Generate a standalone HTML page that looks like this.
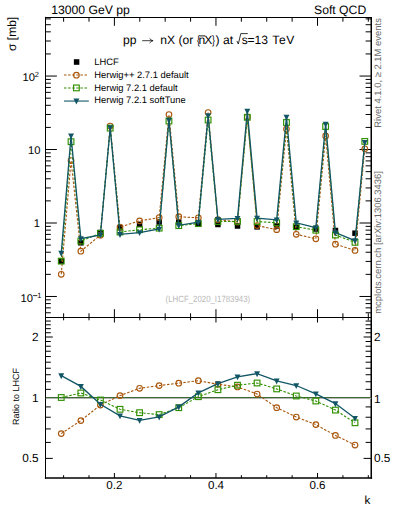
<!DOCTYPE html>
<html><head><meta charset="utf-8"><style>html,body{margin:0;padding:0;background:#fff;width:393px;height:512px;overflow:hidden}svg{display:block}text{text-rendering:geometricPrecision;-webkit-font-smoothing:antialiased}</style></head>
<body><svg width="393" height="512" viewBox="0 0 393 512">
<rect width="393" height="512" fill="#fff"/>
<path d="M45.5,312.77h5.3M371.3,312.77h-5.7M45.5,307.85h5.3M371.3,307.85h-5.7M45.5,303.59h5.3M371.3,303.59h-5.7M45.5,299.83h5.3M371.3,299.83h-5.7M45.5,296.47h11.4M371.3,296.47h-11.8M45.5,274.35h5.3M371.3,274.35h-5.7M45.5,261.42h5.3M371.3,261.42h-5.7M45.5,252.24h5.3M371.3,252.24h-5.7M45.5,245.12h5.3M371.3,245.12h-5.7M45.5,239.30h5.3M371.3,239.30h-5.7M45.5,234.38h5.3M371.3,234.38h-5.7M45.5,230.12h5.3M371.3,230.12h-5.7M45.5,226.36h5.3M371.3,226.36h-5.7M45.5,223.00h11.4M371.3,223.00h-11.8M45.5,200.88h5.3M371.3,200.88h-5.7M45.5,187.95h5.3M371.3,187.95h-5.7M45.5,178.77h5.3M371.3,178.77h-5.7M45.5,171.65h5.3M371.3,171.65h-5.7M45.5,165.83h5.3M371.3,165.83h-5.7M45.5,160.91h5.3M371.3,160.91h-5.7M45.5,156.65h5.3M371.3,156.65h-5.7M45.5,152.89h5.3M371.3,152.89h-5.7M45.5,149.53h11.4M371.3,149.53h-11.8M45.5,127.41h5.3M371.3,127.41h-5.7M45.5,114.48h5.3M371.3,114.48h-5.7M45.5,105.30h5.3M371.3,105.30h-5.7M45.5,98.18h5.3M371.3,98.18h-5.7M45.5,92.36h5.3M371.3,92.36h-5.7M45.5,87.44h5.3M371.3,87.44h-5.7M45.5,83.18h5.3M371.3,83.18h-5.7M45.5,79.42h5.3M371.3,79.42h-5.7M45.5,76.06h11.4M371.3,76.06h-11.8M45.5,53.94h5.3M371.3,53.94h-5.7M45.5,41.01h5.3M371.3,41.01h-5.7M45.5,31.83h5.3M371.3,31.83h-5.7M45.5,24.71h5.3M371.3,24.71h-5.7M45.5,18.89h5.3M371.3,18.89h-5.7M45.5,458.39h7.3M371.3,458.39h-7.7M45.5,442.42h5.3M371.3,442.42h-5.7M45.5,428.93h5.3M371.3,428.93h-5.7M45.5,417.24h5.3M371.3,417.24h-5.7M45.5,406.92h5.3M371.3,406.92h-5.7M45.5,397.70h7.3M371.3,397.70h-7.7M45.5,389.36h5.3M371.3,389.36h-5.7M45.5,381.74h5.3M371.3,381.74h-5.7M45.5,374.73h5.3M371.3,374.73h-5.7M45.5,368.24h5.3M371.3,368.24h-5.7M45.5,362.20h5.3M371.3,362.20h-5.7M45.5,356.55h5.3M371.3,356.55h-5.7M45.5,351.24h5.3M371.3,351.24h-5.7M45.5,346.24h5.3M371.3,346.24h-5.7M45.5,341.50h5.3M371.3,341.50h-5.7M45.5,337.01h7.3M371.3,337.01h-7.7M45.5,332.74h5.3M371.3,332.74h-5.7M45.5,328.67h5.3M371.3,328.67h-5.7M45.5,324.78h5.3M371.3,324.78h-5.7M45.5,321.05h5.3M371.3,321.05h-5.7M63.62,17.5v4.2M63.62,317.5v-4.2M63.62,317.5v2.8M63.62,478.0v-2.8M89.01,17.5v4.2M89.01,317.5v-4.2M89.01,317.5v2.8M89.01,478.0v-2.8M114.40,17.5v8.3M114.40,317.5v-8.3M114.40,317.5v5.0M114.40,478.0v-5.0M139.79,17.5v4.2M139.79,317.5v-4.2M139.79,317.5v2.8M139.79,478.0v-2.8M165.18,17.5v4.2M165.18,317.5v-4.2M165.18,317.5v2.8M165.18,478.0v-2.8M190.57,17.5v4.2M190.57,317.5v-4.2M190.57,317.5v2.8M190.57,478.0v-2.8M215.96,17.5v8.3M215.96,317.5v-8.3M215.96,317.5v5.0M215.96,478.0v-5.0M241.35,17.5v4.2M241.35,317.5v-4.2M241.35,317.5v2.8M241.35,478.0v-2.8M266.74,17.5v4.2M266.74,317.5v-4.2M266.74,317.5v2.8M266.74,478.0v-2.8M292.13,17.5v4.2M292.13,317.5v-4.2M292.13,317.5v2.8M292.13,478.0v-2.8M317.52,17.5v8.3M317.52,317.5v-8.3M317.52,317.5v5.0M317.52,478.0v-5.0M342.91,17.5v4.2M342.91,317.5v-4.2M342.91,317.5v2.8M342.91,478.0v-2.8M368.30,17.5v4.2M368.30,317.5v-4.2M368.30,317.5v2.8M368.30,478.0v-2.8" stroke="#000" stroke-width="1" fill="none"/>
<path d="M45.5,17.5H371.5M45.5,317.5H371.5" stroke="#000" stroke-width="1.2" fill="none"/>
<path d="M45.5,16.9V478.8" stroke="#000" stroke-width="1.0" fill="none"/><path d="M371.25,16.9V478.8" stroke="#000" stroke-width="1.5" fill="none"/>
<path d="M44.9,478.0H372.1" stroke="#000" stroke-width="1.7" fill="none"/>
<text x="51.2" y="13.8" font-size="12.2" text-anchor="start" fill="#000" font-family="Liberation Sans, sans-serif" >13000 GeV pp</text>
<text x="366.2" y="13.8" font-size="12.2" text-anchor="end" fill="#000" font-family="Liberation Sans, sans-serif" >Soft QCD</text>
<text x="35.0" y="80.7" font-size="11.2" text-anchor="end" fill="#000" font-family="Liberation Sans, sans-serif" >10</text>
<text x="34.7" y="76.9" font-size="7.5" text-anchor="start" fill="#000" font-family="Liberation Sans, sans-serif" >2</text>
<text x="40.4" y="153.9" font-size="11.2" text-anchor="end" fill="#000" font-family="Liberation Sans, sans-serif" >10</text>
<text x="39.9" y="227.4" font-size="11.2" text-anchor="end" fill="#000" font-family="Liberation Sans, sans-serif" >1</text>
<text x="33.0" y="301.8" font-size="11.2" text-anchor="end" fill="#000" font-family="Liberation Sans, sans-serif" >10</text>
<path d="M33.1,295.6H37.4" stroke="#000" stroke-width="0.8"/>
<text x="37.3" y="297.9" font-size="7.5" text-anchor="start" fill="#000" font-family="Liberation Sans, sans-serif" >1</text>
<text x="38.6" y="340.71" font-size="11.8" text-anchor="end" fill="#000" font-family="Liberation Sans, sans-serif" >2</text>
<text x="374" y="340.61" font-size="11.8" text-anchor="start" fill="#000" font-family="Liberation Sans, sans-serif" >2</text>
<text x="38.6" y="401.95" font-size="11.8" text-anchor="end" fill="#000" font-family="Liberation Sans, sans-serif" >1</text>
<text x="374" y="402.70" font-size="11.8" text-anchor="start" fill="#000" font-family="Liberation Sans, sans-serif" >1</text>
<text x="38.6" y="462.04" font-size="11.8" text-anchor="end" fill="#000" font-family="Liberation Sans, sans-serif" >0.5</text>
<text x="374" y="462.14" font-size="11.8" text-anchor="start" fill="#000" font-family="Liberation Sans, sans-serif" >0.5</text>
<text x="114.4" y="489" font-size="11.6" text-anchor="middle" fill="#000" font-family="Liberation Sans, sans-serif" >0.2</text>
<text x="216.0" y="489" font-size="11.6" text-anchor="middle" fill="#000" font-family="Liberation Sans, sans-serif" >0.4</text>
<text x="317.5" y="489" font-size="11.6" text-anchor="middle" fill="#000" font-family="Liberation Sans, sans-serif" >0.6</text>
<text x="367.4" y="504.0" font-size="11.6" text-anchor="middle" fill="#000" font-family="Liberation Sans, sans-serif" >k</text>
<text transform="translate(15.9,16.8) rotate(-90)" font-size="12" text-anchor="end" font-family="Liberation Sans, sans-serif">σ [mb]</text>
<text transform="translate(18.5,396.6) rotate(-90)" font-size="9.0" text-anchor="middle" font-family="Liberation Sans, sans-serif">Ratio to LHCF</text>
<text transform="translate(380.6,127.7) rotate(-90)" font-size="9.45" fill="#6a6a6a" font-family="Liberation Sans, sans-serif">Rivet 4.1.0, ≥ 2.1M events</text>
<text transform="translate(381.3,313.8) rotate(-90)" font-size="9.45" fill="#6a6a6a" font-family="Liberation Sans, sans-serif">mcplots.cern.ch [arXiv:1306.3436]</text>
<text x="165.6" y="302.4" font-size="9.0" text-anchor="start" fill="#b8b8b8" font-family="Liberation Sans, sans-serif" textLength="84.6" lengthAdjust="spacingAndGlyphs">(LHCF_2020_I1783943)</text>
<text x="123.0" y="43.8" font-size="12.1" text-anchor="start" fill="#000" font-family="Liberation Sans, sans-serif" >pp</text>
<path d="M142.2,40.7H152.6" stroke="#000" stroke-width="0.75" fill="none"/>
<path d="M149.6,38.5Q151,40.2 153.1,40.7Q151,41.2 149.6,43" stroke="#000" stroke-width="0.75" fill="none"/>
<text x="160.3" y="43.8" font-size="12.1" text-anchor="start" fill="#000" font-family="Liberation Sans, sans-serif" >nX (or</text>
<text transform="translate(197.0,43.8) scale(0.72,1)" font-size="12.1" font-family="Liberation Sans, sans-serif">{</text>
<text x="198.6" y="43.8" font-size="12.1" text-anchor="start" fill="#000" font-family="Liberation Sans, sans-serif" >n</text>
<path d="M199.6,35.9H205.1" stroke="#000" stroke-width="0.9"/>
<text x="204.3" y="43.8" font-size="12.1" text-anchor="start" fill="#000" font-family="Liberation Sans, sans-serif" >X</text>
<text transform="translate(211.9,43.8) scale(0.72,1)" font-size="12.1" font-family="Liberation Sans, sans-serif">}</text>
<text x="215.4" y="43.8" font-size="12.1" text-anchor="start" fill="#000" font-family="Liberation Sans, sans-serif" >)</text>
<text x="223.0" y="43.8" font-size="12.1" text-anchor="start" fill="#000" font-family="Liberation Sans, sans-serif" >at</text>
<path d="M236.9,40.9L238.3,44.0L240.8,33.6H247.8" stroke="#000" stroke-width="0.8" fill="none"/>
<text x="241.7" y="43.8" font-size="12.1" text-anchor="start" fill="#000" font-family="Liberation Sans, sans-serif" >s</text>
<text x="247.5" y="43.8" font-size="12.1" text-anchor="start" fill="#000" font-family="Liberation Sans, sans-serif" >=</text>
<text x="254.6" y="43.8" font-size="12.1" text-anchor="start" fill="#000" font-family="Liberation Sans, sans-serif" >13</text>
<text x="272.2" y="43.8" font-size="12.1" text-anchor="start" fill="#000" font-family="Liberation Sans, sans-serif" letter-spacing="0.65">TeV</text>
<text x="94.3" y="64.9" font-size="9.4" text-anchor="start" fill="#000" font-family="Liberation Sans, sans-serif" >LHCF</text>
<text x="94.3" y="77.9" font-size="9.4" text-anchor="start" fill="#000" font-family="Liberation Sans, sans-serif" >Herwig++ 2.7.1 default</text>
<text x="94.3" y="90.7" font-size="9.4" text-anchor="start" fill="#000" font-family="Liberation Sans, sans-serif" >Herwig 7.2.1 default</text>
<text x="94.3" y="103.4" font-size="9.4" text-anchor="start" fill="#000" font-family="Liberation Sans, sans-serif" >Herwig 7.2.1 softTune</text>
<rect x="73.85" y="59.2" width="5.5" height="5.6" fill="#000"/>
<path d="M64,75.0H88.5" stroke="#a9570c" stroke-width="1.1" stroke-dasharray="2.5,1.6"/>
<circle cx="76.40" cy="75.20" r="2.8" fill="none" stroke="#a9570c" stroke-width="1.15"/>
<path d="M64,88.0H88.5" stroke="#309000" stroke-width="1.1" stroke-dasharray="2.5,1.6"/>
<rect x="73.55" y="85.05" width="5.7" height="5.7" fill="none" stroke="#309000" stroke-width="1.15"/>
<path d="M64,101.05H88.8" stroke="#125666" stroke-width="1.1"/>
<path d="M73.45,98.55h5.9l-2.95,5.9z" fill="#125666"/>
<defs><clipPath id="cm"><rect x="45.5" y="17.5" width="326.0" height="300.0"/></clipPath><clipPath id="cr"><rect x="45.5" y="317.5" width="326.0" height="160.5"/></clipPath></defs>
<g clip-path="url(#cm)">
<rect x="58.50" y="258.45" width="5.5" height="5.5" fill="#000"/>
<rect x="78.08" y="240.05" width="5.5" height="5.5" fill="#000"/>
<rect x="97.67" y="229.75" width="5.5" height="5.5" fill="#000"/>
<rect x="117.25" y="225.05" width="5.5" height="5.5" fill="#000"/>
<rect x="136.84" y="221.55" width="5.5" height="5.5" fill="#000"/>
<rect x="156.42" y="219.25" width="5.5" height="5.5" fill="#000"/>
<rect x="176.00" y="219.25" width="5.5" height="5.5" fill="#000"/>
<rect x="195.59" y="221.25" width="5.5" height="5.5" fill="#000"/>
<rect x="215.17" y="221.75" width="5.5" height="5.5" fill="#000"/>
<rect x="234.76" y="223.25" width="5.5" height="5.5" fill="#000"/>
<rect x="254.34" y="224.15" width="5.5" height="5.5" fill="#000"/>
<rect x="273.92" y="223.25" width="5.5" height="5.5" fill="#000"/>
<rect x="293.51" y="224.55" width="5.5" height="5.5" fill="#000"/>
<rect x="313.09" y="226.25" width="5.5" height="5.5" fill="#000"/>
<rect x="332.68" y="227.75" width="5.5" height="5.5" fill="#000"/>
<rect x="352.26" y="230.45" width="5.5" height="5.5" fill="#000"/>
<path d="M61.25,274.28 L71.04,160.50 L80.83,251.15 L100.42,235.16 L110.21,126.00 L120.00,227.03 L139.59,220.87 L159.17,217.59 L168.96,114.60 L178.75,216.72 L198.34,217.80 L208.13,112.60 L217.92,219.62 L237.51,222.06 L247.30,117.00 L257.09,225.55 L276.67,229.64 L286.47,129.00 L296.26,234.33 L315.84,238.80 L325.63,135.90 L335.43,244.24 L355.01,250.44 L364.80,148.80" fill="none" stroke="#a9570c" stroke-width="1.1" stroke-dasharray="2.5,1.6"/>
<circle cx="61.25" cy="274.28" r="2.8" fill="none" stroke="#a9570c" stroke-width="1.15"/>
<circle cx="71.04" cy="160.50" r="2.8" fill="none" stroke="#a9570c" stroke-width="1.15"/>
<circle cx="80.83" cy="251.15" r="2.8" fill="none" stroke="#a9570c" stroke-width="1.15"/>
<circle cx="100.42" cy="235.16" r="2.8" fill="none" stroke="#a9570c" stroke-width="1.15"/>
<circle cx="110.21" cy="126.00" r="2.8" fill="none" stroke="#a9570c" stroke-width="1.15"/>
<circle cx="120.00" cy="227.03" r="2.8" fill="none" stroke="#a9570c" stroke-width="1.15"/>
<circle cx="139.59" cy="220.87" r="2.8" fill="none" stroke="#a9570c" stroke-width="1.15"/>
<circle cx="159.17" cy="217.59" r="2.8" fill="none" stroke="#a9570c" stroke-width="1.15"/>
<circle cx="168.96" cy="114.60" r="2.8" fill="none" stroke="#a9570c" stroke-width="1.15"/>
<circle cx="178.75" cy="216.72" r="2.8" fill="none" stroke="#a9570c" stroke-width="1.15"/>
<circle cx="198.34" cy="217.80" r="2.8" fill="none" stroke="#a9570c" stroke-width="1.15"/>
<circle cx="208.13" cy="112.60" r="2.8" fill="none" stroke="#a9570c" stroke-width="1.15"/>
<circle cx="217.92" cy="219.62" r="2.8" fill="none" stroke="#a9570c" stroke-width="1.15"/>
<circle cx="237.51" cy="222.06" r="2.8" fill="none" stroke="#a9570c" stroke-width="1.15"/>
<circle cx="247.30" cy="117.00" r="2.8" fill="none" stroke="#a9570c" stroke-width="1.15"/>
<circle cx="257.09" cy="225.55" r="2.8" fill="none" stroke="#a9570c" stroke-width="1.15"/>
<circle cx="276.67" cy="229.64" r="2.8" fill="none" stroke="#a9570c" stroke-width="1.15"/>
<circle cx="286.47" cy="129.00" r="2.8" fill="none" stroke="#a9570c" stroke-width="1.15"/>
<circle cx="296.26" cy="234.33" r="2.8" fill="none" stroke="#a9570c" stroke-width="1.15"/>
<circle cx="315.84" cy="238.80" r="2.8" fill="none" stroke="#a9570c" stroke-width="1.15"/>
<circle cx="325.63" cy="135.90" r="2.8" fill="none" stroke="#a9570c" stroke-width="1.15"/>
<circle cx="335.43" cy="244.24" r="2.8" fill="none" stroke="#a9570c" stroke-width="1.15"/>
<circle cx="355.01" cy="250.44" r="2.8" fill="none" stroke="#a9570c" stroke-width="1.15"/>
<circle cx="364.80" cy="148.80" r="2.8" fill="none" stroke="#a9570c" stroke-width="1.15"/>
<path d="M61.25,261.13 L71.04,141.70 L80.83,241.09 L100.42,233.34 L110.21,128.10 L120.00,232.03 L139.59,229.77 L159.17,228.16 L168.96,121.00 L178.75,225.64 L198.34,223.64 L208.13,120.00 L217.92,221.58 L237.51,221.44 L247.30,117.30 L257.09,221.54 L276.67,222.79 L286.47,122.50 L296.26,226.68 L315.84,230.20 L325.63,126.50 L335.43,235.02 L355.01,242.35 L364.80,141.40" fill="none" stroke="#309000" stroke-width="1.1" stroke-dasharray="2.5,1.6"/>
<rect x="58.40" y="258.28" width="5.7" height="5.7" fill="none" stroke="#309000" stroke-width="1.15"/>
<rect x="68.19" y="138.85" width="5.7" height="5.7" fill="none" stroke="#309000" stroke-width="1.15"/>
<rect x="77.98" y="238.24" width="5.7" height="5.7" fill="none" stroke="#309000" stroke-width="1.15"/>
<rect x="97.57" y="230.49" width="5.7" height="5.7" fill="none" stroke="#309000" stroke-width="1.15"/>
<rect x="107.36" y="125.25" width="5.7" height="5.7" fill="none" stroke="#309000" stroke-width="1.15"/>
<rect x="117.15" y="229.18" width="5.7" height="5.7" fill="none" stroke="#309000" stroke-width="1.15"/>
<rect x="136.74" y="226.92" width="5.7" height="5.7" fill="none" stroke="#309000" stroke-width="1.15"/>
<rect x="156.32" y="225.31" width="5.7" height="5.7" fill="none" stroke="#309000" stroke-width="1.15"/>
<rect x="166.11" y="118.15" width="5.7" height="5.7" fill="none" stroke="#309000" stroke-width="1.15"/>
<rect x="175.90" y="222.79" width="5.7" height="5.7" fill="none" stroke="#309000" stroke-width="1.15"/>
<rect x="195.49" y="220.79" width="5.7" height="5.7" fill="none" stroke="#309000" stroke-width="1.15"/>
<rect x="205.28" y="117.15" width="5.7" height="5.7" fill="none" stroke="#309000" stroke-width="1.15"/>
<rect x="215.07" y="218.73" width="5.7" height="5.7" fill="none" stroke="#309000" stroke-width="1.15"/>
<rect x="234.66" y="218.59" width="5.7" height="5.7" fill="none" stroke="#309000" stroke-width="1.15"/>
<rect x="244.45" y="114.45" width="5.7" height="5.7" fill="none" stroke="#309000" stroke-width="1.15"/>
<rect x="254.24" y="218.69" width="5.7" height="5.7" fill="none" stroke="#309000" stroke-width="1.15"/>
<rect x="273.82" y="219.94" width="5.7" height="5.7" fill="none" stroke="#309000" stroke-width="1.15"/>
<rect x="283.62" y="119.65" width="5.7" height="5.7" fill="none" stroke="#309000" stroke-width="1.15"/>
<rect x="293.41" y="223.83" width="5.7" height="5.7" fill="none" stroke="#309000" stroke-width="1.15"/>
<rect x="312.99" y="227.35" width="5.7" height="5.7" fill="none" stroke="#309000" stroke-width="1.15"/>
<rect x="322.78" y="123.65" width="5.7" height="5.7" fill="none" stroke="#309000" stroke-width="1.15"/>
<rect x="332.58" y="232.17" width="5.7" height="5.7" fill="none" stroke="#309000" stroke-width="1.15"/>
<rect x="352.16" y="239.50" width="5.7" height="5.7" fill="none" stroke="#309000" stroke-width="1.15"/>
<rect x="361.95" y="138.55" width="5.7" height="5.7" fill="none" stroke="#309000" stroke-width="1.15"/>
<path d="M61.25,253.15 L71.04,135.80 L80.83,238.68 L100.42,234.91 L110.21,127.60 L120.00,234.40 L139.59,232.54 L159.17,229.00 L168.96,120.20 L178.75,225.35 L198.34,222.25 L208.13,115.50 L217.92,219.36 L237.51,218.38 L247.30,111.00 L257.09,218.12 L276.67,219.88 L286.47,117.00 L296.26,222.85 L315.84,227.58 L325.63,124.00 L335.43,232.65 L355.01,240.71 L364.80,142.30" fill="none" stroke="#125666" stroke-width="1.3"/>
<path d="M58.30,250.80h5.9l-2.95,5.9z" fill="#125666"/>
<path d="M68.09,133.45h5.9l-2.95,5.9z" fill="#125666"/>
<path d="M77.88,236.33h5.9l-2.95,5.9z" fill="#125666"/>
<path d="M97.47,232.56h5.9l-2.95,5.9z" fill="#125666"/>
<path d="M107.26,125.25h5.9l-2.95,5.9z" fill="#125666"/>
<path d="M117.05,232.05h5.9l-2.95,5.9z" fill="#125666"/>
<path d="M136.64,230.19h5.9l-2.95,5.9z" fill="#125666"/>
<path d="M156.22,226.65h5.9l-2.95,5.9z" fill="#125666"/>
<path d="M166.01,117.85h5.9l-2.95,5.9z" fill="#125666"/>
<path d="M175.80,223.00h5.9l-2.95,5.9z" fill="#125666"/>
<path d="M195.39,219.90h5.9l-2.95,5.9z" fill="#125666"/>
<path d="M205.18,113.15h5.9l-2.95,5.9z" fill="#125666"/>
<path d="M214.97,217.01h5.9l-2.95,5.9z" fill="#125666"/>
<path d="M234.56,216.03h5.9l-2.95,5.9z" fill="#125666"/>
<path d="M244.35,108.65h5.9l-2.95,5.9z" fill="#125666"/>
<path d="M254.14,215.77h5.9l-2.95,5.9z" fill="#125666"/>
<path d="M273.72,217.53h5.9l-2.95,5.9z" fill="#125666"/>
<path d="M283.52,114.65h5.9l-2.95,5.9z" fill="#125666"/>
<path d="M293.31,220.50h5.9l-2.95,5.9z" fill="#125666"/>
<path d="M312.89,225.23h5.9l-2.95,5.9z" fill="#125666"/>
<path d="M322.68,121.65h5.9l-2.95,5.9z" fill="#125666"/>
<path d="M332.48,230.30h5.9l-2.95,5.9z" fill="#125666"/>
<path d="M352.06,238.36h5.9l-2.95,5.9z" fill="#125666"/>
<path d="M361.85,139.95h5.9l-2.95,5.9z" fill="#125666"/>
</g>
<g clip-path="url(#cr)">
<rect x="45.5" y="398" width="326.0" height="1" fill="#b4b4b4"/><rect x="45.5" y="397" width="326.0" height="1" fill="#3f6a37"/>
<path d="M61.25,433.60 L80.83,420.60 L100.42,405.00 L120.00,395.60 L139.59,388.30 L159.17,385.60 L178.75,383.20 L198.34,380.70 L217.92,384.30 L237.51,386.90 L257.09,394.00 L276.67,407.70 L296.26,417.00 L315.84,424.60 L335.43,435.40 L355.01,445.00" fill="none" stroke="#a9570c" stroke-width="1.1" stroke-dasharray="2.5,1.6"/>
<circle cx="61.25" cy="433.60" r="2.8" fill="none" stroke="#a9570c" stroke-width="1.15"/>
<circle cx="80.83" cy="420.60" r="2.8" fill="none" stroke="#a9570c" stroke-width="1.15"/>
<circle cx="100.42" cy="405.00" r="2.8" fill="none" stroke="#a9570c" stroke-width="1.15"/>
<circle cx="120.00" cy="395.60" r="2.8" fill="none" stroke="#a9570c" stroke-width="1.15"/>
<circle cx="139.59" cy="388.30" r="2.8" fill="none" stroke="#a9570c" stroke-width="1.15"/>
<circle cx="159.17" cy="385.60" r="2.8" fill="none" stroke="#a9570c" stroke-width="1.15"/>
<circle cx="178.75" cy="383.20" r="2.8" fill="none" stroke="#a9570c" stroke-width="1.15"/>
<circle cx="198.34" cy="380.70" r="2.8" fill="none" stroke="#a9570c" stroke-width="1.15"/>
<circle cx="217.92" cy="384.30" r="2.8" fill="none" stroke="#a9570c" stroke-width="1.15"/>
<circle cx="237.51" cy="386.90" r="2.8" fill="none" stroke="#a9570c" stroke-width="1.15"/>
<circle cx="257.09" cy="394.00" r="2.8" fill="none" stroke="#a9570c" stroke-width="1.15"/>
<circle cx="276.67" cy="407.70" r="2.8" fill="none" stroke="#a9570c" stroke-width="1.15"/>
<circle cx="296.26" cy="417.00" r="2.8" fill="none" stroke="#a9570c" stroke-width="1.15"/>
<circle cx="315.84" cy="424.60" r="2.8" fill="none" stroke="#a9570c" stroke-width="1.15"/>
<circle cx="335.43" cy="435.40" r="2.8" fill="none" stroke="#a9570c" stroke-width="1.15"/>
<circle cx="355.01" cy="445.00" r="2.8" fill="none" stroke="#a9570c" stroke-width="1.15"/>
<path d="M61.25,397.50 L80.83,393.00 L100.42,400.00 L120.00,409.30 L139.59,412.70 L159.17,414.60 L178.75,407.70 L198.34,396.70 L217.92,389.70 L237.51,385.20 L257.09,383.00 L276.67,388.90 L296.26,396.00 L315.84,401.00 L335.43,410.10 L355.01,422.80" fill="none" stroke="#309000" stroke-width="1.1" stroke-dasharray="2.5,1.6"/>
<rect x="58.40" y="394.65" width="5.7" height="5.7" fill="none" stroke="#309000" stroke-width="1.15"/>
<rect x="77.98" y="390.15" width="5.7" height="5.7" fill="none" stroke="#309000" stroke-width="1.15"/>
<rect x="97.57" y="397.15" width="5.7" height="5.7" fill="none" stroke="#309000" stroke-width="1.15"/>
<rect x="117.15" y="406.45" width="5.7" height="5.7" fill="none" stroke="#309000" stroke-width="1.15"/>
<rect x="136.74" y="409.85" width="5.7" height="5.7" fill="none" stroke="#309000" stroke-width="1.15"/>
<rect x="156.32" y="411.75" width="5.7" height="5.7" fill="none" stroke="#309000" stroke-width="1.15"/>
<rect x="175.90" y="404.85" width="5.7" height="5.7" fill="none" stroke="#309000" stroke-width="1.15"/>
<rect x="195.49" y="393.85" width="5.7" height="5.7" fill="none" stroke="#309000" stroke-width="1.15"/>
<rect x="215.07" y="386.85" width="5.7" height="5.7" fill="none" stroke="#309000" stroke-width="1.15"/>
<rect x="234.66" y="382.35" width="5.7" height="5.7" fill="none" stroke="#309000" stroke-width="1.15"/>
<rect x="254.24" y="380.15" width="5.7" height="5.7" fill="none" stroke="#309000" stroke-width="1.15"/>
<rect x="273.82" y="386.05" width="5.7" height="5.7" fill="none" stroke="#309000" stroke-width="1.15"/>
<rect x="293.41" y="393.15" width="5.7" height="5.7" fill="none" stroke="#309000" stroke-width="1.15"/>
<rect x="312.99" y="398.15" width="5.7" height="5.7" fill="none" stroke="#309000" stroke-width="1.15"/>
<rect x="332.58" y="407.25" width="5.7" height="5.7" fill="none" stroke="#309000" stroke-width="1.15"/>
<rect x="352.16" y="419.95" width="5.7" height="5.7" fill="none" stroke="#309000" stroke-width="1.15"/>
<path d="M61.25,375.60 L80.83,386.40 L100.42,404.30 L120.00,415.80 L139.59,420.30 L159.17,416.90 L178.75,406.90 L198.34,392.90 L217.92,383.60 L237.51,376.80 L257.09,373.60 L276.67,380.90 L296.26,385.50 L315.84,393.80 L335.43,403.60 L355.01,418.30" fill="none" stroke="#125666" stroke-width="1.3"/>
<path d="M58.30,373.25h5.9l-2.95,5.9z" fill="#125666"/>
<path d="M77.88,384.05h5.9l-2.95,5.9z" fill="#125666"/>
<path d="M97.47,401.95h5.9l-2.95,5.9z" fill="#125666"/>
<path d="M117.05,413.45h5.9l-2.95,5.9z" fill="#125666"/>
<path d="M136.64,417.95h5.9l-2.95,5.9z" fill="#125666"/>
<path d="M156.22,414.55h5.9l-2.95,5.9z" fill="#125666"/>
<path d="M175.80,404.55h5.9l-2.95,5.9z" fill="#125666"/>
<path d="M195.39,390.55h5.9l-2.95,5.9z" fill="#125666"/>
<path d="M214.97,381.25h5.9l-2.95,5.9z" fill="#125666"/>
<path d="M234.56,374.45h5.9l-2.95,5.9z" fill="#125666"/>
<path d="M254.14,371.25h5.9l-2.95,5.9z" fill="#125666"/>
<path d="M273.72,378.55h5.9l-2.95,5.9z" fill="#125666"/>
<path d="M293.31,383.15h5.9l-2.95,5.9z" fill="#125666"/>
<path d="M312.89,391.45h5.9l-2.95,5.9z" fill="#125666"/>
<path d="M332.48,401.25h5.9l-2.95,5.9z" fill="#125666"/>
<path d="M352.06,415.95h5.9l-2.95,5.9z" fill="#125666"/>
</g>
</svg></body></html>
